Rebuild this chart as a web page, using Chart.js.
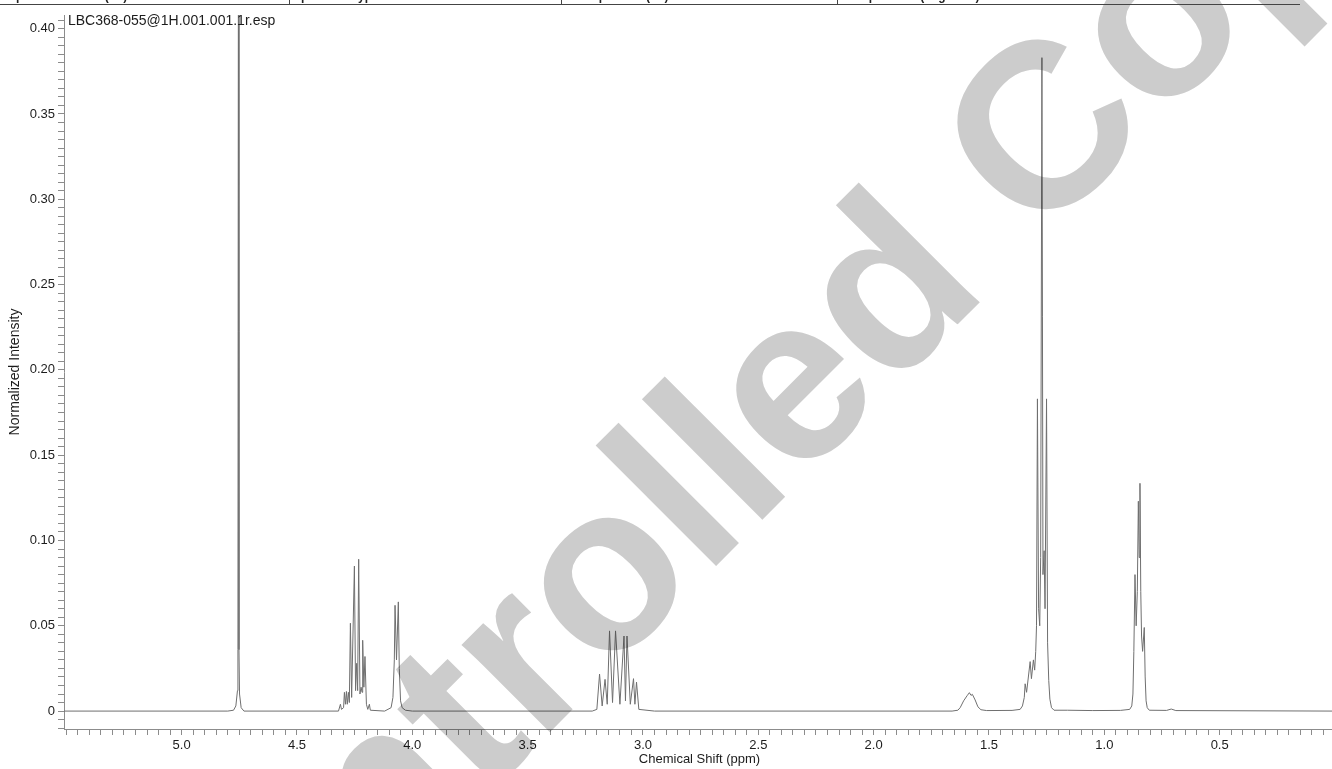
<!DOCTYPE html>
<html>
<head>
<meta charset="utf-8">
<title>LBC368-055 1H NMR</title>
<script src="https://cdn.jsdelivr.net/npm/chart.js@4.4.1/dist/chart.umd.min.js"></script>
<style>
  html, body { margin: 0; padding: 0; overflow: hidden; background: #fff; }
  #wrap { position: relative; width: 1346px; height: 769px; }
  #hdr {
    position: absolute; left: 0; top: 0; width: 1300px; height: 4px;
    border-bottom: 1px solid #444; overflow: hidden; z-index: 2;
    font: bold 12px "Liberation Sans", Arial, sans-serif; color: #222;
  }
  #hdr span { position: absolute; top: -10px; white-space: nowrap; line-height: 13px; }
  #hdr i { position: absolute; top: 0; height: 5px; border-left: 1px solid #444; }
</style>
</head>
<body>
<div id="wrap">
  <div id="hdr"></div>
  <canvas id="nmr"></canvas>
</div>
<script>
// ── DATA ─────────────────────────────────────────

const SPECTRUM_NAME = "LBC368-055@1H.001.001.1r.esp";
const WATERMARK = "Controlled Copy";

// parameter strip above the plot (only the bottom of it is in frame)
const HEADER_CELLS = [
  ["Spectrum Offset (Hz)", "2345.6667"],
  ["Spectrum Type", "STANDARD"],
  ["Sweep Width (Hz)", "8012.82"],
  ["Temperature (degree C)", "24.000"],
];

// chemical shift (ppm) and normalized intensity
const SHIFT_PPM = [
  // baseline + singlet at 4.75
  5.52, 4.80, 4.775, 4.765, 4.758, 4.756, 4.7535, 4.7515, 4.749, 4.742, 4.73,
  // multiplet 4.18 - 4.32
  4.32, 4.3117, 4.307, 4.298, 4.2944, 4.290, 4.2857, 4.282, 4.2771, 4.273,
  4.2684, 4.263, 4.2511, 4.246, 4.2411, 4.237, 4.2325, 4.227, 4.2221, 4.218,
  4.2152, 4.210, 4.2052, 4.199, 4.193, 4.1861, 4.182,
  // doublet 4.07
  4.12, 4.092, 4.084, 4.078, 4.0749, 4.0685, 4.0606, 4.0565, 4.051, 4.044, 4.03,
  // multiplet 3.03 - 3.19
  4.00, 3.22, 3.20, 3.1883, 3.177, 3.1645, 3.155, 3.145, 3.132, 3.119,
  3.100, 3.0823, 3.076, 3.0693, 3.055, 3.0411, 3.035, 3.0281, 3.018, 2.95,
  // broad 1.58
  1.66, 1.635, 1.625, 1.61, 1.595, 1.585, 1.578, 1.572, 1.56, 1.548, 1.535, 1.51,
  // multiplet 1.22 - 1.36
  1.40, 1.365, 1.355, 1.347, 1.3433, 1.337, 1.3216, 1.316, 1.3074, 1.302,
  1.2974, 1.294, 1.290, 1.285, 1.280, 1.276, 1.2705, 1.266, 1.261, 1.257,
  1.2505, 1.246, 1.241, 1.236, 1.229, 1.218, 1.16,
  // multiplet 0.85 + tail
  1.05, 0.93, 0.89, 0.881, 0.876, 0.872, 0.8671, 0.862, 0.857, 0.8525,
  0.849, 0.8455, 0.842, 0.8386, 0.834, 0.8268, 0.823, 0.819, 0.814, 0.805,
  0.73, 0.71, 0.69, 0.0,
];

const INTENSITY = [
  0, 0, 0.0005, 0.003, 0.012, 0.036, 0.55, 0.036, 0.01, 0.002, 0,

  0, 0.004, 0.001, 0.002, 0.011, 0.004, 0.0115, 0.004, 0.011, 0.005,
  0.0515, 0.008, 0.085, 0.012, 0.028, 0.012, 0.089, 0.01, 0.014, 0.011,
  0.0415, 0.014, 0.032, 0.004, 0.001, 0.004, 0.0005,

  0, 0.002, 0.008, 0.03, 0.062, 0.03, 0.064, 0.025, 0.006, 0.002, 0.0005,

  0, 0, 0.001, 0.0217, 0.003, 0.0186, 0.004, 0.047, 0.005, 0.047,
  0.004, 0.044, 0.006, 0.044, 0.004, 0.019, 0.004, 0.017, 0.001, 0,

  0, 0.0005, 0.002, 0.006, 0.009, 0.0108, 0.0092, 0.0098, 0.0065, 0.0025, 0.0008, 0.0003,

  0.0004, 0.001, 0.003, 0.008, 0.016, 0.011, 0.029, 0.019, 0.030, 0.024,
  0.035, 0.05, 0.183, 0.06, 0.05, 0.09, 0.383, 0.08, 0.094, 0.06,
  0.183, 0.04, 0.018, 0.007, 0.002, 0.0005, 0.0005,

  0.0003, 0.0004, 0.001, 0.003, 0.01, 0.035, 0.080, 0.05, 0.07, 0.123,
  0.09, 0.1335, 0.07, 0.044, 0.035, 0.049, 0.02, 0.006, 0.002, 0.0005,
  0.0004, 0.0012, 0.0003, 0,
];

const X_TICKS = ["5.0", "4.5", "4.0", "3.5", "3.0", "2.5", "2.0", "1.5", "1.0", "0.5", "0"];
const Y_TICKS = ["0", "0.05", "0.10", "0.15", "0.20", "0.25", "0.30", "0.35", "0.40"];

// ── STYLE ────────────────────────────────────────

const FONT = '"Liberation Sans", Arial, Helvetica, sans-serif';
const TEXT = "#1c1c1c";
const AXIS = "#8c8c8c";
const TRACE = "#6f6f6f";

// ── HEADER STRIP ─────────────────────────────────

function buildHeader() {
  const hdr = document.getElementById("hdr");
  const cellX = [[8, 174], [293, 450], [568, 726], [845, 1000]];
  const seps = [289, 561, 837];
  HEADER_CELLS.forEach((cell, i) => {
    cell.forEach((txt, j) => {
      const s = document.createElement("span");
      s.textContent = txt;
      s.style.left = cellX[i][j] + "px";
      hdr.appendChild(s);
    });
  });
  seps.forEach(x => {
    const bar = document.createElement("i");
    bar.style.left = x + "px";
    hdr.appendChild(bar);
  });
}

// ── PLUGINS ──────────────────────────────────────

const specTitle = {
  id: "specTitle",
  afterDraw(chart) {
    const { ctx, chartArea } = chart;
    ctx.save();
    ctx.font = "14px " + FONT;
    ctx.fillStyle = TEXT;
    ctx.textBaseline = "middle";
    ctx.fillText(SPECTRUM_NAME, chartArea.left + 4, chartArea.top + 6);
    ctx.restore();
  },
};

const watermark = {
  id: "watermark",
  afterDraw(chart) {
    const ctx = chart.ctx;
    ctx.save();
    ctx.globalCompositeOperation = "multiply";
    ctx.fillStyle = "rgb(204,204,204)";
    ctx.font = "bold 235px " + FONT;
    ctx.translate(160, 1122);
    ctx.rotate(-Math.PI / 4);
    ctx.textBaseline = "alphabetic";
    ctx.fillText(WATERMARK, 0, 0);
    ctx.restore();
  },
};

// ── CHART ────────────────────────────────────────

function pickLabel(list, v) {
  const hit = list.find(t => Math.abs(parseFloat(t) - v) < 1e-6);
  return hit === undefined ? "" : hit;
}

function buildSpectrum() {
  const ctx = document.getElementById("nmr").getContext("2d");
  new Chart(ctx, {
    type: "line",
    data: {
      datasets: [{
        data: SHIFT_PPM.map((x, i) => ({ x, y: INTENSITY[i] })),
        borderColor: TRACE,
        borderWidth: 1,
        pointRadius: 0,
        tension: 0,
        fill: false,
      }],
    },
    options: {
      responsive: true,
      maintainAspectRatio: false,
      animation: false,
      events: [],
      layout: { padding: { top: 15, right: 11, left: 0, bottom: 0 } },
      plugins: {
        legend: { display: false },
        tooltip: { enabled: false },
      },
      scales: {
        x: {
          type: "linear",
          reverse: true,
          min: 0,
          max: 5.51,
          afterFit: s => { s.height = 40; },
          border: { color: AXIS, width: 1 },
          grid: { drawOnChartArea: false, tickLength: 6, tickColor: AXIS },
          ticks: {
            stepSize: 0.05,
            autoSkip: false,
            includeBounds: false,
            maxRotation: 0,
            padding: 3,
            color: TEXT,
            font: { family: FONT, size: 13 },
            callback: v => pickLabel(X_TICKS, v),
          },
          title: {
            display: true,
            text: "Chemical Shift (ppm)",
            color: TEXT,
            font: { family: FONT, size: 13 },
            padding: { top: 0, bottom: 2 },
          },
        },
        y: {
          type: "linear",
          min: -0.0105,
          max: 0.408,
          afterFit: s => { s.width = 64; },
          border: { color: AXIS, width: 1 },
          grid: { drawOnChartArea: false, tickLength: 6, tickColor: AXIS },
          ticks: {
            stepSize: 0.005,
            autoSkip: false,
            includeBounds: false,
            padding: 3,
            color: TEXT,
            font: { family: FONT, size: 13 },
            callback: v => pickLabel(Y_TICKS, v),
          },
          title: {
            display: true,
            text: "Normalized Intensity",
            color: TEXT,
            font: { family: FONT, size: 14 },
            padding: { top: 7, bottom: 0 },
          },
        },
      },
    },
    plugins: [specTitle, watermark],
  });
}

// ── INIT ─────────────────────────────────────────

buildHeader();
buildSpectrum();
</script>
</body>
</html>
